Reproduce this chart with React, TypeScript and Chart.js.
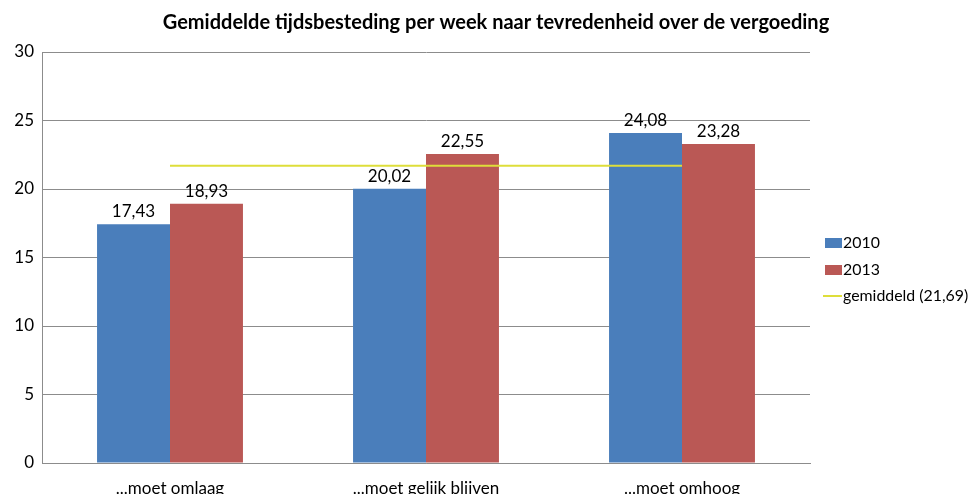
import React, { useEffect, useRef } from "react";
import { Chart, registerables } from "chart.js";

Chart.register(...registerables);

const chartTitle = "Gemiddelde tijdsbesteding per week naar tevredenheid over de vergoeding";
const categories = ["...moet omlaag", "...moet gelijk blijven", "...moet omhoog"];
const values2010 = [17.43, 20.02, 24.08];
const values2013 = [18.93, 22.55, 23.28];
const averageValues = [21.69, 21.69, 21.69];
const seriesLabels = ["2010", "2013", "gemiddeld (21,69)"];
const yMin = 0;
const yMax = 30;
const yStep = 5;

const BLUE = "#4A7EBB";
const RED = "#BA5855";
const YELLOW = "#DEDE3A";
const GRID = "#8C8C8C";
const FONT = "Lato, 'Noto Sans', sans-serif";

const fmt = (v: number) => v.toFixed(2).replace(".", ",");

const decorPlugin = {
  id: "decor",
  afterDatasetsDraw(chart: any) {
    const ctx = chart.ctx;
    ctx.save();
    ctx.font = `17px ${FONT}`;
    ctx.fillStyle = "#000";
    ctx.textAlign = "center";
    ctx.textBaseline = "bottom";
    [0, 1].forEach((di) => {
      const meta = chart.getDatasetMeta(di);
      const data = chart.data.datasets[di].data as number[];
      meta.data.forEach((el: any, i: number) => {
        ctx.fillText(fmt(data[i]), el.x, el.y - 4);
      });
    });
    ctx.restore();
  },
  afterDraw(chart: any) {
    const ctx = chart.ctx;
    ctx.save();
    // title
    ctx.font = `bold 20px ${FONT}`;
    ctx.fillStyle = "#000";
    ctx.textAlign = "center";
    ctx.textBaseline = "middle";
    ctx.fillText(chartTitle, 496, 23);
    // legend
    let fs = 17;
    ctx.font = `${fs}px ${FONT}`;
    const w = ctx.measureText(seriesLabels[2]).width;
    if (w > 126) fs = Math.floor((fs * 126) / w * 10) / 10;
    ctx.font = `${fs}px ${FONT}`;
    ctx.textAlign = "left";
    ctx.textBaseline = "middle";
    const lx = 825;
    const tx = 843;
    const rows = [243, 270, 296];
    ctx.fillStyle = BLUE;
    ctx.fillRect(lx, rows[0] - 5, 17, 10);
    ctx.fillStyle = RED;
    ctx.fillRect(lx, rows[1] - 5, 17, 10);
    ctx.strokeStyle = YELLOW;
    ctx.lineWidth = 2;
    ctx.beginPath();
    ctx.moveTo(lx - 2, rows[2]);
    ctx.lineTo(lx + 17, rows[2]);
    ctx.stroke();
    ctx.fillStyle = "#000";
    seriesLabels.forEach((s, i) => ctx.fillText(s, tx, rows[i]));
    ctx.restore();
  },
};

export default function App() {
  const ref = useRef<HTMLCanvasElement | null>(null);
  useEffect(() => {
    if (!ref.current) return;
    const chart = new Chart(ref.current, {
      type: "bar",
      data: {
        labels: categories,
        datasets: [
          {
            type: "bar",
            label: seriesLabels[0],
            data: values2010,
            backgroundColor: BLUE,
            categoryPercentage: 0.57,
            barPercentage: 1,
            order: 2,
          },
          {
            type: "bar",
            label: seriesLabels[1],
            data: values2013,
            backgroundColor: RED,
            categoryPercentage: 0.57,
            barPercentage: 1,
            order: 2,
          },
          {
            type: "line",
            label: seriesLabels[2],
            data: averageValues,
            borderColor: YELLOW,
            borderWidth: 2,
            pointRadius: 0,
            fill: false,
            order: 0,
          } as any,
        ],
      },
      options: {
        animation: false,
        responsive: true,
        maintainAspectRatio: false,
        layout: { padding: { top: 52, right: 163, left: 0, bottom: 0 } },
        plugins: {
          legend: { display: false },
          title: { display: false },
          tooltip: { enabled: false },
        },
        scales: {
          x: {
            grid: { display: false, drawTicks: false },
            border: { display: true, color: GRID, width: 1 },
            ticks: { color: "#000", font: { family: FONT, size: 17 }, padding: 15, maxRotation: 0 },
            afterFit: (s: any) => {
              s.height = 31;
            },
          },
          y: {
            min: yMin,
            max: yMax,
            grid: { color: GRID, drawTicks: false },
            border: { display: true, color: GRID, width: 1 },
            ticks: { stepSize: yStep, color: "#000", font: { family: FONT, size: 17 }, padding: 8 },
            afterFit: (s: any) => {
              s.width = 42;
            },
          },
        },
      },
      plugins: [decorPlugin],
    });
    return () => chart.destroy();
  }, []);
  return (
    <div style={{ position: "fixed", left: 0, top: 0, width: 973, height: 494, background: "#fff" }}>
      <canvas ref={ref} />
    </div>
  );
}
